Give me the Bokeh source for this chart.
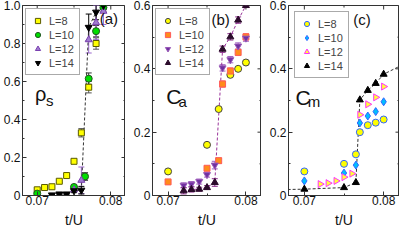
import math
import numpy as np
from bokeh.plotting import figure
from bokeh.layouts import row
from bokeh.models import (ColumnDataSource, Whisker, TeeHead, Legend, LegendItem,
                          FixedTicker, Label, Range1d)
from bokeh.embed import file_html
from bokeh.resources import INLINE

FONT = "Liberation Sans"

# ---------------- data ----------------
x_ticks = [0.07, 0.08]
x_minor = [0.075]
x_title = "t/U"

# panel (a) rho_s
a_t8 = [0.070, 0.071, 0.072, 0.073, 0.074, 0.075, 0.076, 0.077, 0.078]
a_v8 = [0.030, 0.042, 0.046, 0.075, 0.105, 0.180, 0.330, 0.570, 0.800]
a_e8 = [0.008, 0.005, 0.005, 0.006, 0.008, 0.010, 0.022, 0.030, 0.030]
a_t10 = [0.070, 0.075, 0.0765, 0.077, 0.078, 0.079]
a_v10 = [0.010, 0.045, 0.100, 0.615, 0.865, 0.990]
a_e10 = [0.005, 0.010, 0.020, 0.030, 0.030, 0.020]
a_t12 = [0.075, 0.076, 0.077, 0.078, 0.079]
a_v12 = [0.030, 0.080, 0.820, 0.910, 0.970]
a_e12 = [0.010, 0.070, 0.070, 0.090, 0.070]
a_t14 = [0.072, 0.073, 0.074, 0.075, 0.076, 0.077, 0.078, 0.079]
a_v14 = [0.003, 0.008, 0.008, 0.025, 0.028, 0.885, 0.965, 1.000]
a_e14 = [0.003, 0.005, 0.005, 0.010, 0.020, 0.070, 0.040, 0.010]

# panel (b) C_a
b_t8 = [0.070, 0.075, 0.0765, 0.078, 0.079, 0.080]
b_v8 = [0.076, 0.160, 0.273, 0.381, 0.400, 0.420]
b_t10 = [0.070, 0.075, 0.0765, 0.077, 0.078, 0.079, 0.080]
b_v10 = [0.043, 0.086, 0.110, 0.352, 0.393, 0.452, 0.501]
b_e10 = [0.004, 0.006, 0.008, 0.010, 0.010, 0.010, 0.010]
b_t12 = [0.072, 0.073, 0.074, 0.075, 0.076, 0.077, 0.078, 0.079, 0.080]
b_v12 = [0.032, 0.036, 0.044, 0.066, 0.096, 0.403, 0.429, 0.472, 0.497]
b_e12 = [0.008, 0.008, 0.008, 0.008, 0.012, 0.010, 0.010, 0.010, 0.010]
b_t14 = [0.072, 0.073, 0.074, 0.075, 0.076, 0.077, 0.078, 0.079, 0.080]
b_v14 = [0.015, 0.019, 0.020, 0.025, 0.041, 0.462, 0.501, 0.554, 0.600]
b_e14 = [0.010, 0.008, 0.006, 0.006, 0.012, 0.010, 0.010, 0.010, 0.005]

# panel (c) C_m
c_t8 = [0.070, 0.075, 0.0765, 0.077, 0.078, 0.079, 0.080]
c_v8 = [0.076, 0.100, 0.130, 0.200, 0.222, 0.230, 0.240]
c_t10 = [0.070, 0.075, 0.0765, 0.077, 0.078, 0.079, 0.080]
c_v10 = [0.046, 0.071, 0.096, 0.229, 0.251, 0.265, 0.296]
c_t12 = [0.072, 0.073, 0.074, 0.075, 0.076, 0.077, 0.078, 0.079, 0.080]
c_v12 = [0.036, 0.039, 0.046, 0.058, 0.069, 0.255, 0.288, 0.310, 0.344]
c_t14 = [0.070, 0.075, 0.0765, 0.077, 0.078, 0.079, 0.080]
c_v14 = [0.020, 0.025, 0.041, 0.302, 0.332, 0.354, 0.383]
c_guide_t = [0.066, 0.070, 0.075, 0.0765, 0.077, 0.078, 0.079, 0.080, 0.084]
c_guide_v = [0.018, 0.020, 0.025, 0.041, 0.302, 0.332, 0.354, 0.383, 0.433]

labels = ["L=8", "L=10", "L=12", "L=14"]

X_START, X_END = 0.068, 0.082

# ---------------- layout ----------------
H = 230
BT = 5
BB = 30
EDGE = "#333333"


def make_panel(w, bl, yend, ymaj, ymin):
    p = figure(width=w, height=H, min_border_left=bl, min_border_right=0,
               min_border_top=BT, min_border_bottom=BB,
               x_range=Range1d(X_START, X_END), y_range=Range1d(0, yend),
               output_backend="svg", toolbar_location=None, x_axis_label=x_title)
    p.xgrid.visible = False
    p.ygrid.visible = False
    p.outline_line_color = EDGE
    p.background_fill_color = "white"
    p.border_fill_color = "white"
    p.xaxis.ticker = FixedTicker(ticks=x_ticks, minor_ticks=x_minor)
    p.yaxis.ticker = FixedTicker(ticks=ymaj, minor_ticks=ymin)
    p.yaxis.major_label_overrides = {0: "0", 1: "1.0"}
    for ax in [p.xaxis[0], p.yaxis[0]]:
        ax.major_tick_in = 4
        ax.major_tick_out = 0
        ax.minor_tick_in = 2
        ax.minor_tick_out = 0
        ax.axis_line_color = EDGE
        ax.major_tick_line_color = EDGE
        ax.minor_tick_line_color = EDGE
        ax.major_label_text_font = FONT
        ax.major_label_text_font_size = "12px"
        ax.major_label_text_color = "#111111"
        ax.axis_label_text_font = FONT
        ax.axis_label_text_font_size = "14px"
        ax.axis_label_text_font_style = "normal"
        ax.axis_label_text_color = "#111111"
    p.yaxis.major_label_standoff = 2
    p.xaxis.major_label_standoff = 0
    p.xaxis.axis_label_standoff = 4
    # mirrored inward ticks on the top and right frame edges (clipped dash markers)
    p.scatter(x_ticks, [yend] * len(x_ticks), marker="dash", size=8, angle=math.pi / 2,
              line_color=EDGE, line_width=1)
    p.scatter(x_minor, [yend] * len(x_minor), marker="dash", size=4, angle=math.pi / 2,
              line_color=EDGE, line_width=1)
    p.scatter([X_END] * len(ymaj), ymaj, marker="dash", size=8, line_color=EDGE, line_width=1)
    p.scatter([X_END] * len(ymin), ymin, marker="dash", size=4, line_color=EDGE, line_width=1)
    return p


def add_series(p, t, v, marker, size, fill, line, angle=0.0, err=None, ecolor=None):
    if err is not None:
        v_ = np.array(v)
        e_ = np.array(err)
        src = ColumnDataSource(dict(base=t, upper=v_ + e_, lower=v_ - e_))
        w = Whisker(source=src, base="base", upper="upper", lower="lower",
                    dimension="height", line_color=ecolor, line_width=1,
                    upper_head=TeeHead(size=6, line_color=ecolor, line_width=1),
                    lower_head=TeeHead(size=6, line_color=ecolor, line_width=1),
                    level="underlay")
        p.add_layout(w)
    return p.scatter(t, v, marker=marker, size=size, fill_color=fill,
                     line_color=line, line_width=1, angle=angle)


def add_legend(p, rends, margin):
    leg = Legend(items=[LegendItem(label=l, renderers=[r]) for l, r in zip(labels, rends)],
                 location="top_left", margin=margin, padding=5, spacing=1,
                 glyph_width=13, glyph_height=13, label_height=13, label_standoff=5,
                 label_text_font=FONT, label_text_font_size="11px",
                 border_line_color="#555555", border_line_width=1,
                 background_fill_color="white", background_fill_alpha=1.0)
    p.add_layout(leg)


def add_text(p, x, y, text, size, baseline="alphabetic"):
    p.add_layout(Label(x=x, y=y, text=text, text_font=FONT, text_font_size=size,
                       text_baseline=baseline, text_color="#111111"))


# ---------- panel a ----------
pa = make_panel(125, 20, 1.0, [0, 0.2, 0.4, 0.6, 0.8, 1.0], [0.1, 0.3, 0.5, 0.7, 0.9])
pa.line(a_t14, a_v14, line_color="#333333", line_dash="3 2", line_width=1)
r1 = add_series(pa, a_t8, a_v8, "square", 6, "#ffff00", "#5a5a00", err=a_e8, ecolor="#555555")
r2 = add_series(pa, a_t10, a_v10, "circle", 7, "#00dd00", "#225522", err=a_e10, ecolor="#333333")
r3 = add_series(pa, a_t12, a_v12, "triangle", 7, "#a07cd0", "#7a40b0", err=a_e12, ecolor="#9a66cc")
r4 = add_series(pa, a_t14, a_v14, "inverted_triangle", 7, "black", "black", err=a_e14, ecolor="black")
add_legend(pa, [r1, r2, r3, r4], 3)
add_text(pa, 0.0697, 0.535, "ρ", "20px")
add_text(pa, 0.0712, 0.50, "s", "15px")
add_text(pa, 0.0785, 0.929, "(a)", "15px", "middle")

# ---------- panel b ----------
pb = make_panel(136, 27, 0.6, [0, 0.2, 0.4, 0.6], [0.1, 0.3, 0.5])
pb.line(b_t14, b_v14, line_color="#993399", line_dash="3 2", line_width=1)
s1 = add_series(pb, b_t8, b_v8, "circle", 7, "#ffff00", "#444444")
s2 = add_series(pb, b_t10, b_v10, "square", 6, "#ff8c1a", "#ff5a5a", err=b_e10, ecolor="#ff7070")
s3 = add_series(pb, b_t12, b_v12, "inverted_triangle", 7, "#7030a0", "#9a5ab8", err=b_e12, ecolor="#a060c0")
s4 = add_series(pb, b_t14, b_v14, "triangle", 7, "#2a0a2a", "#2a0a2a", err=b_e14, ecolor="#8a2a8a")
add_legend(pb, [s1, s2, s3, s4], 3)
add_text(pb, 0.06977, 0.313, "C", "21px")
add_text(pb, 0.07134, 0.296, "a", "15px")
add_text(pb, 0.07557, 0.557, "(b)", "15px", "middle")

# ---------- panel c ----------
pc = make_panel(138, 27, 0.6, [0, 0.2, 0.4, 0.6], [0.1, 0.3, 0.5])
pc.line(c_guide_t, c_guide_v, line_color="#333333", line_dash="3 2", line_width=1)
q1 = add_series(pc, c_t8, c_v8, "circle", 7, "#ffff00", "#3366ff")
q2 = add_series(pc, c_t10, c_v10, "diamond", 8, "#00bfff", "#3366ff")
q3 = add_series(pc, c_t12, c_v12, "triangle", 7, "#ffff33", "#ff33ff", angle=-math.pi / 2)
q4 = add_series(pc, c_t14, c_v14, "triangle", 7, "black", "black")
add_legend(pc, [q1, q2, q3, q4], 6)
add_text(pc, 0.06887, 0.31, "C", "21px")
add_text(pc, 0.07042, 0.296, "m", "15px")
add_text(pc, 0.07618, 0.557, "(c)", "15px", "middle")

layout = row(pa, pb, pc)
open("out.html", "w").write(file_html(layout, INLINE))
